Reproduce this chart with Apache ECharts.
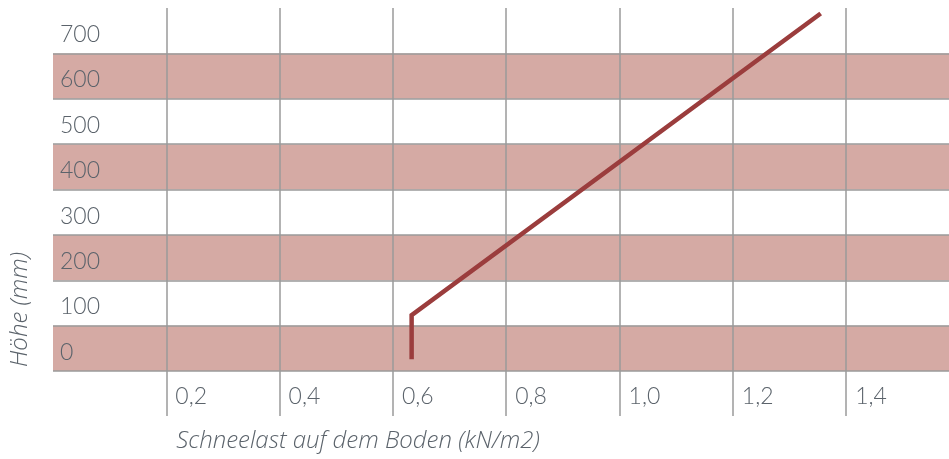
<!DOCTYPE html>
<html>
<head>
<meta charset="utf-8">
<script src="https://cdn.jsdelivr.net/npm/echarts@6/dist/echarts.min.js"></script>
<style>
  html, body { margin: 0; padding: 0; background: #fff; }
  #chart { width: 949px; height: 459px; }
</style>
</head>
<body>
<div id="chart"></div>
<script>
// height bands (labels sit in the middle of each band)
const heightLabels = ['0', '100', '200', '300', '400', '500', '600', '700'];
// snow load ticks on the x axis
const loadTicks = [0.2, 0.4, 0.6, 0.8, 1.0, 1.2, 1.4];
// curve: [snow load kN/m2, height]
const curveLoad = [0.633, 0.633, 1.355];
const curveHeight = [-24, 73, 738];

const textColor = '#5b636b';
const gridColor = '#9a9a9a';
const fontFamily = 'Lato, "Open Sans", sans-serif';
const nameFont = '"Open Sans", Lato, sans-serif';

const chart = echarts.init(document.getElementById('chart'));

chart.setOption({
  animation: false,
  grid: { left: 51.5, right: 0, top: 8, bottom: 88, containLabel: false },
  xAxis: {
    type: 'value',
    min: 0,
    max: 1.5815,
    interval: 0.2,
    name: 'Schneelast auf dem Boden (kN/m2)',
    nameLocation: 'middle',
    nameGap: 58,
    nameTextStyle: {
      color: textColor, fontFamily: nameFont, fontSize: 24, fontStyle: 'italic', fontWeight: 300,
      padding: [0, 286, 0, 0]
    },
    axisLine: { show: false, onZero: false },
    axisTick: {
      show: true, length: 45, customValues: loadTicks,
      lineStyle: { color: gridColor, width: 1.5 }
    },
    axisLabel: {
      customValues: loadTicks,
      formatter: v => v.toFixed(1).replace('.', ','),
      align: 'left',
      padding: [0, 0, 0, 9],
      margin: 14,
      color: textColor, fontFamily, fontSize: 23, fontWeight: 300
    },
    splitLine: { show: true, lineStyle: { color: gridColor, width: 1.5 } }
  },
  yAxis: [
    {
      type: 'category',
      data: heightLabels,
      boundaryGap: true,
      name: 'Höhe (mm)',
      nameLocation: 'middle',
      nameGap: 21,
      nameTextStyle: {
        color: textColor, fontFamily: nameFont, fontSize: 24, fontStyle: 'italic', fontWeight: 300,
        padding: [0, 240, 0, 0]
      },
      axisLine: { show: false },
      axisTick: { show: false },
      axisLabel: {
        inside: true, margin: 7, align: 'left',
        verticalAlign: 'top', lineHeight: 8,
        color: textColor, fontFamily, fontSize: 23, fontWeight: 300
      },
      splitLine: { show: true, showMaxLine: false, lineStyle: { color: gridColor, width: 1.5 } },
      splitArea: { show: true, areaStyle: { color: ['#d5aaa4', 'rgba(255,255,255,0)'] } }
    },
    {
      type: 'value',
      min: -50,
      max: 750,
      show: false
    }
  ],
  series: [
    {
      type: 'line',
      yAxisIndex: 1,
      symbol: 'none',
      lineStyle: { color: '#9b3d3d', width: 4.5, cap: 'butt', join: 'miter' },
      data: curveLoad.map((x, i) => [x, curveHeight[i]])
    }
  ]
});
</script>
</body>
</html>
